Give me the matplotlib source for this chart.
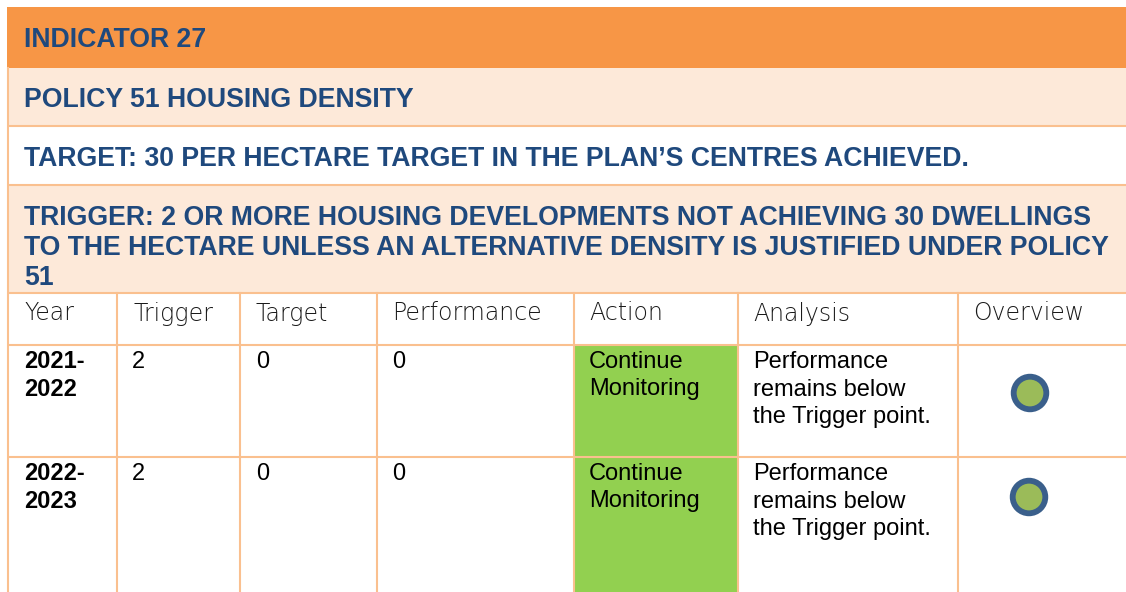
import matplotlib
matplotlib.use("Agg")
import matplotlib.pyplot as plt
from matplotlib.patches import Rectangle, Circle

# ---- data ----
title = "INDICATOR 27"
policy = "POLICY 51 HOUSING DENSITY"
target_text = "TARGET: 30 PER HECTARE TARGET IN THE PLAN\u2019S CENTRES ACHIEVED."
trigger_lines = [
    "TRIGGER: 2 OR MORE HOUSING DEVELOPMENTS NOT ACHIEVING 30 DWELLINGS",
    "TO THE HECTARE UNLESS AN ALTERNATIVE DENSITY IS JUSTIFIED UNDER POLICY",
    "51",
]
columns = ["Year", "Trigger", "Target", "Performance", "Action", "Analysis", "Overview"]
years = [["2021-", "2022"], ["2022-", "2023"]]
trigger_vals = ["2", "2"]
target_vals = ["0", "0"]
performance_vals = ["0", "0"]
actions = [["Continue", "Monitoring"], ["Continue", "Monitoring"]]
analysis = [["Performance", "remains below", "the Trigger point."],
            ["Performance", "remains below", "the Trigger point."]]
status = ["green", "green"]

# ---- style / layout ----
W, H = 1126, 592
ORANGE = "#F79646"
PEACH = "#FDE9D9"
BORDER = "#FAC08F"
BLUE = "#1F497D"
GREEN = "#92D050"
CIRC_FILL = "#9BBB59"
CIRC_EDGE = "#3A5F8B"

col_edges = [7.5, 116.5, 240, 376.5, 574, 738, 958, W]
header_top, header_bot = 293, 345
row_tops = [345, 457]
row_bots = [457, H + 5]
circle_pos = [(1030, 393), (1029, 497)]

fig = plt.figure(figsize=(W / 100, H / 100), dpi=100)
ax = fig.add_axes([0, 0, 1, 1])
ax.set_xlim(0, W)
ax.set_ylim(H, 0)
ax.axis("off")

# bands
bands = [(7, 68, ORANGE), (68, 125.5, PEACH), (125.5, 185, "white"), (185, 293, PEACH)]
for y0, y1, c in bands:
    ax.add_patch(Rectangle((7, y0), W - 7, y1 - y0, facecolor=c, edgecolor="none", zorder=1))

# green action cells
for i, st in enumerate(status):
    ax.add_patch(Rectangle((col_edges[4], row_tops[i]), col_edges[5] - col_edges[4],
                           row_bots[i] - row_tops[i], facecolor=GREEN, edgecolor="none", zorder=1))

# grid lines
glw = 1.5
for y in [125.5, 185, 293, 345, 457]:
    ax.plot([7, W], [y, y], color=BORDER, lw=glw, zorder=3, solid_capstyle="butt")
ax.plot([7.5, 7.5], [68, H], color=BORDER, lw=glw, zorder=3)
for x in col_edges[1:-1]:
    ax.plot([x, x], [header_top, H], color=BORDER, lw=glw, zorder=3)

# title texts
tkw = dict(color=BLUE, fontsize=19.2, fontweight="bold", family="Liberation Sans",
           va="baseline", ha="left", zorder=4)
ax.text(24, 47, title, **tkw)
ax.text(24, 107, policy, **tkw)
ax.text(24, 166, target_text, **tkw)
for k, line in enumerate(trigger_lines):
    ax.text(24, 225 + k * 30, line, **tkw)

# headers
text_x = [24, 133, 256, 392, 589, 753, 973]
for x, name in zip(text_x, columns):
    ax.text(x, 320.5, name, fontsize=17, family="DejaVu Sans", fontweight=200,
            color="#1a1a1a", va="baseline", ha="left", zorder=4)

# data rows
dkw = dict(fontsize=17, family="Liberation Sans", color="black", va="baseline", ha="left", zorder=4)
pitch = 28
for i in range(len(years)):
    b = row_tops[i] + 22.5
    for k, line in enumerate(years[i]):
        ax.text(text_x[0], b + k * pitch, line, fontweight="bold", **dkw)
    ax.text(text_x[1] - 1, b, trigger_vals[i], **dkw)
    ax.text(text_x[2], b, target_vals[i], **dkw)
    ax.text(text_x[3], b, performance_vals[i], **dkw)
    for k, line in enumerate(actions[i]):
        ax.text(text_x[4], b + k * pitch, line, **dkw)
    for k, line in enumerate(analysis[i]):
        ax.text(text_x[5], b + k * pitch, line, **dkw)
    cx, cy = circle_pos[i]
    ax.add_patch(Circle((cx, cy), 16.3, facecolor=CIRC_FILL, edgecolor=CIRC_EDGE,
                        lw=4.2, zorder=5))

fig.savefig("out.png", dpi=100)
